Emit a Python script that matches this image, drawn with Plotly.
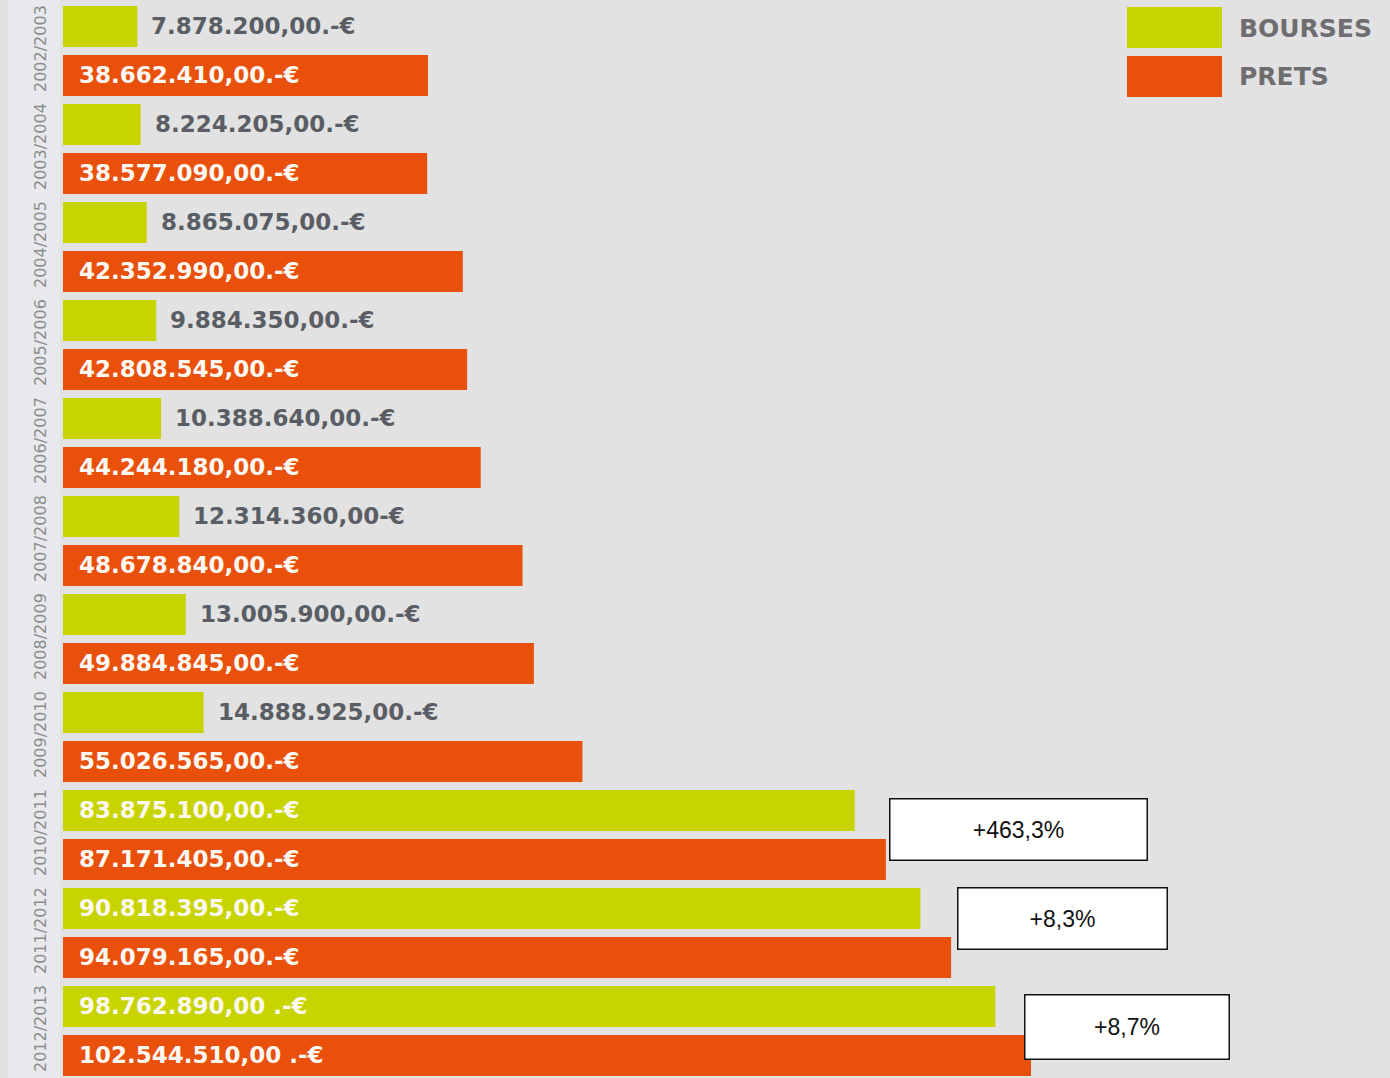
import plotly.graph_objects as go

# Academic years and the amounts granted (euros)
years = ["2002/2003", "2003/2004", "2004/2005", "2005/2006", "2006/2007", "2007/2008",
         "2008/2009", "2009/2010", "2010/2011", "2011/2012", "2012/2013"]
bourses = [7878200, 8224205, 8865075, 9884350, 10388640, 12314360,
           13005900, 14888925, 83875100, 90818395, 98762890]
prets = [38662410, 38577090, 42352990, 42808545, 44244180, 48678840,
         49884845, 55026565, 87171405, 94079165, 102544510]
bourses_labels = ["7.878.200,00.-€", "8.224.205,00.-€", "8.865.075,00.-€", "9.884.350,00.-€",
                  "10.388.640,00.-€", "12.314.360,00-€", "13.005.900,00.-€", "14.888.925,00.-€",
                  "83.875.100,00.-€", "90.818.395,00.-€", "98.762.890,00 .-€"]
prets_labels = ["38.662.410,00.-€", "38.577.090,00.-€", "42.352.990,00.-€", "42.808.545,00.-€",
                "44.244.180,00.-€", "48.678.840,00.-€", "49.884.845,00.-€", "55.026.565,00.-€",
                "87.171.405,00.-€", "94.079.165,00.-€", "102.544.510,00 .-€"]
legend_names = ["BOURSES", "PRETS"]

GREEN = "#c8d400"
ORANGE = "#e8500c"
BG = "#e2e2e2"
W, H = 1390, 1078
ML = 63

fig = go.Figure()
fig.add_trace(go.Bar(y=years, x=bourses, orientation="h", name=legend_names[0],
                     marker=dict(color=GREEN, line=dict(width=0))))
fig.add_trace(go.Bar(y=years, x=prets, orientation="h", name=legend_names[1],
                     marker=dict(color=ORANGE, line=dict(width=0))))

LABEL_FONT = "DejaVu Sans"
annotations = []
# value labels: inside the bar when it is long enough, otherwise after its end
for i, y in enumerate(years):
    for vals, labels, off in ((bourses, bourses_labels, -0.25), (prets, prets_labels, 0.25)):
        v = vals[i]
        inside = v > 20_000_000
        annotations.append(dict(
            x=0 if inside else v, y=i + off, xref="x", yref="y",
            text=labels[i], showarrow=False, xanchor="left", yanchor="middle",
            xshift=14 if inside else 12,
            font=dict(family=LABEL_FONT, size=23, weight="bold",
                      color="#fdf8f2" if inside else "#5a5e64"),
        ))


def px_x(px):
    return (px - ML) / (W - ML)


def px_y(py):
    return 1 - py / H


# growth boxes for the last three years (bourses, year over year)
boxes = [(8, 1018, 829, 256, 60), (9, 1062, 918, 208, 60), (10, 1127, 1027, 203, 63)]
for idx, cx, cy, bw, bh in boxes:
    growth = (bourses[idx] / bourses[idx - 1] - 1) * 100
    txt = f"+{growth:.1f}%".replace(".", ",")
    annotations.append(dict(
        x=px_x(cx), y=px_y(cy), xref="paper", yref="paper", text=txt, showarrow=False,
        xanchor="center", yanchor="middle", width=bw, height=bh,
        bgcolor="white", bordercolor="#111111", borderwidth=1.5, borderpad=0,
        font=dict(family="Liberation Sans", size=23, color="#111111"),
    ))

shapes = [
    # pale strip behind the year labels
    dict(type="rect", xref="paper", yref="paper", x0=px_x(8), x1=px_x(60), y0=0, y1=1,
         fillcolor="#e8e9ed", line=dict(width=0), layer="below"),
]

# legend drawn as swatches and labels
for k, (name, col) in enumerate(zip(legend_names, [GREEN, ORANGE])):
    top = 7 + k * 49
    shapes.append(dict(type="rect", xref="paper", yref="paper",
                       x0=px_x(1127), x1=px_x(1222), y0=px_y(top + 41), y1=px_y(top),
                       fillcolor=col, line=dict(width=0)))
    annotations.append(dict(x=px_x(1237), y=px_y(top + 21), xref="paper", yref="paper",
                            text=name, showarrow=False, xanchor="left", yanchor="middle",
                            font=dict(family=LABEL_FONT, size=25, weight="bold", color="#6e6e70")))

fig.update_layout(
    width=W, height=H,
    margin=dict(l=ML, r=0, t=0, b=0),
    paper_bgcolor=BG, plot_bgcolor=BG,
    barmode="group", bargap=0, bargroupgap=0.163,
    showlegend=False,
    annotations=annotations, shapes=shapes,
    xaxis=dict(range=[0, (W - ML) / 9.44 * 1e6], visible=False, fixedrange=True),
    yaxis=dict(type="category", range=[10.48, -0.52], showgrid=False, zeroline=False,
               showline=False, ticks="", tickangle=-90, ticklabelstandoff=13,
               tickfont=dict(family="DejaVu Sans", size=16, color="#8c8c8c")),
)

fig.write_html("out.html")
